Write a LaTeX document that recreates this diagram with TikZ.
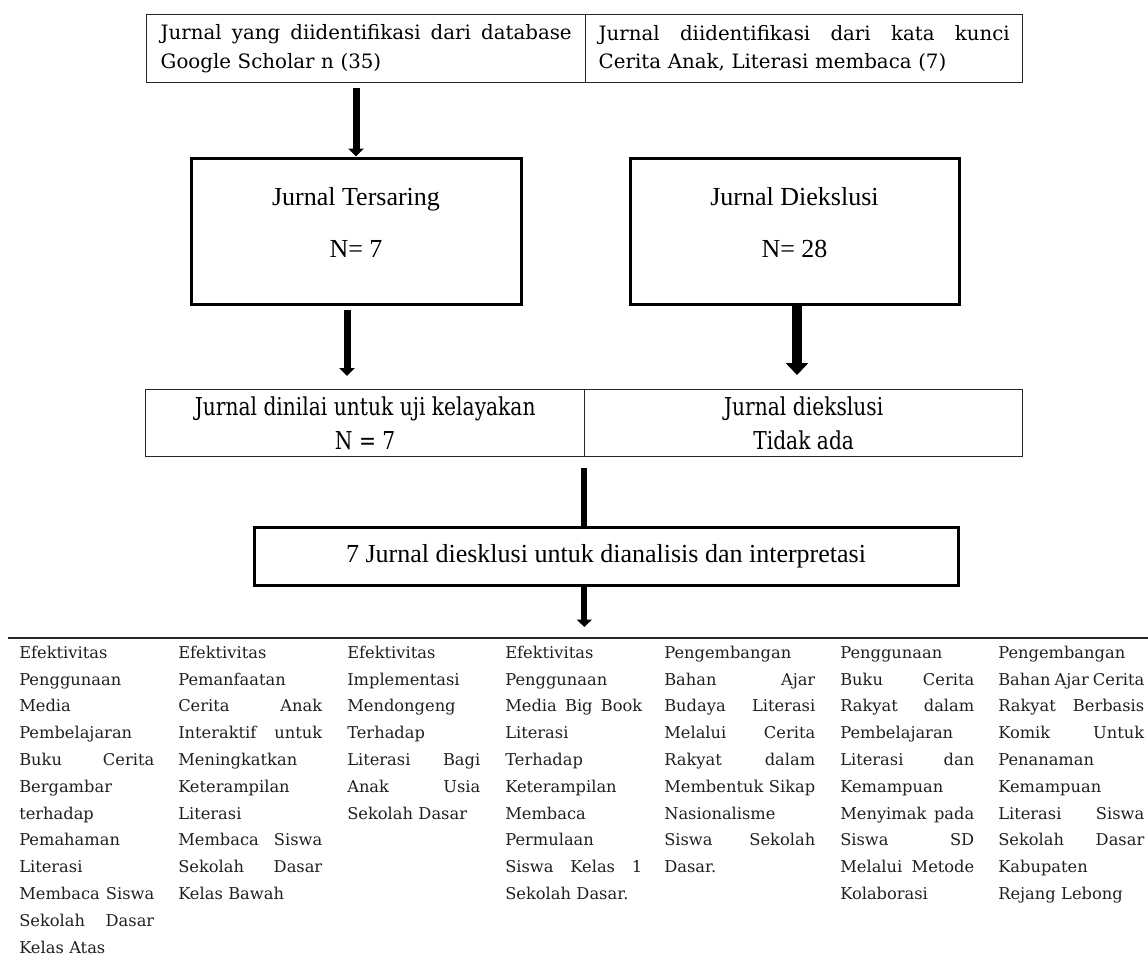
\documentclass[tikz,border=0pt]{standalone}
\usepackage{fontspec}
\setmainfont{DejaVu Serif}
\newfontfamily\timesf{Liberation Serif}
\newfontfamily\condf[FakeStretch=0.82]{DejaVu Serif}
\usetikzlibrary{arrows.meta,calc}
\newcommand{\jl}[2]{{\spaceskip=0pt\xspaceskip=0pt\makebox[#1][s]{#2}}}
\begin{document}
\begin{tikzpicture}[x=0.75pt,y=-0.75pt,
  tcell/.style={draw=black!85, line width=1.1pt, anchor=north west, inner ysep=0pt,
    text width=308.25pt, align=left, minimum height=51pt,
    font=\fontsize{14.85pt}{21.4pt}\selectfont},
  mcell/.style={draw=black!85, line width=1pt, anchor=north west, inner sep=0pt,
    align=center, minimum height=50.25pt,
    font=\condf\fontsize{18.5pt}{25.5pt}\selectfont},
  bigbox/.style={draw, line width=2.25pt, inner sep=0pt, minimum height=109.5pt},
  boxtext/.style={font=\timesf\fontsize{19.5pt}{23pt}\selectfont, anchor=base, inner sep=0pt},
  colt/.style={anchor=north west, inner sep=0pt, align=left, text=black!88,
    font=\fontsize{12.2pt}{20.1pt}\selectfont},
  arrA/.style={line width=5.25pt, -{Triangle[width=11.25pt,length=6pt]}},
  arrC/.style={line width=7.5pt, -{Triangle[width=16.5pt,length=9pt]}},
  arrD/.style={line width=4.5pt},
  arrE/.style={line width=4.5pt, -{Triangle[width=11pt,length=5.5pt]}}
]
\useasboundingbox (0,0) rectangle (1148,976);

% top table
\node[tcell, inner xsep=10.5pt, minimum width=329.25pt] (t1) at (146,14)
  {\jl{308.25pt}{Jurnal yang diidentifikasi dari database}\\Google Scholar n (35)};
\node[tcell, inner xsep=9.75pt, minimum width=327.75pt] (t2) at (585,14)
  {\jl{308.25pt}{Jurnal diidentifikasi dari kata kunci}\\Cerita Anak, Literasi membaca (7)};

% boxes
\node[bigbox, minimum width=247.5pt] (ters) at (356,231) {};
\node[boxtext] (tersA) at (356,205) {Jurnal Tersaring};
\node[boxtext] (tersB) at (356,257) {N= 7};
\node[bigbox, minimum width=246.75pt] (diek) at (794.5,231) {};
\node[boxtext] (diekA) at (794.5,205) {Jurnal Diekslusi};
\node[boxtext] (diekB) at (794.5,257) {N= 28};

% middle table
\node[mcell, minimum width=329.25pt] (m1) at (145,389) {Jurnal dinilai untuk uji kelayakan\\N = 7};
\node[mcell, minimum width=328.5pt] (m2) at (584,389) {Jurnal diekslusi\\Tidak ada};

% final box
\node[bigbox, minimum width=528pt, minimum height=43.5pt,
  font=\timesf\fontsize{19.5pt}{23pt}\selectfont] (final) at (606,556)
  {7 Jurnal diesklusi untuk dianalisis dan interpretasi};

% arrows
\draw[arrA, shorten <=3.75pt] (ters.north |- t1.south) -- (ters.north);
\coordinate (a2) at ($(ters.south)+(-9,0)$);
\draw[arrA, shorten <=3pt, shorten >=9.75pt] (a2) -- (a2 |- m1.north);
\coordinate (a3) at ($(diek.south)+(2.5,0)$);
\draw[arrC, shorten >=10.5pt] (a3) -- (a3 |- m2.north);
\coordinate (a4) at ($(m1.south east)+(-1,11)$);
\draw[arrD] (a4) -- (a4 |- final.north);
\coordinate (bl) at (8,638);
\coordinate (br) at (1148,638);
\draw[line width=1.5pt, draw=black!85] (bl) -- (br);
\draw[arrE, shorten >=8.25pt] (a4 |- final.south) -- (a4 |- bl);

% bottom columns
\node[colt, text width=101.25pt] (c1) at (19,639.2) {\strut Efektivitas\\Penggunaan\\Media\\Pembelajaran\\\jl{101.25pt}{Buku Cerita}\\Bergambar\\terhadap\\Pemahaman\\Literasi\\\jl{101.25pt}{Membaca Siswa}\\\jl{101.25pt}{Sekolah Dasar}\\Kelas Atas};
\node[colt, text width=108pt] (c2) at (178,639.2) {\strut Efektivitas\\Pemanfaatan\\\jl{108pt}{Cerita Anak}\\\jl{108pt}{Interaktif untuk}\\Meningkatkan\\Keterampilan\\Literasi\\\jl{108pt}{Membaca Siswa}\\\jl{108pt}{Sekolah Dasar}\\Kelas Bawah};
\node[colt, text width=99.75pt] (c3) at (347,639.2) {\strut Efektivitas\\Implementasi\\Mendongeng\\Terhadap\\\jl{99.75pt}{Literasi Bagi}\\\jl{99.75pt}{Anak Usia}\\Sekolah Dasar};
\node[colt, text width=102.75pt] (c4) at (505,639.2) {\strut Efektivitas\\Penggunaan\\\jl{102.75pt}{Media Big Book}\\Literasi\\Terhadap\\Keterampilan\\Membaca\\Permulaan\\\jl{102.75pt}{Siswa Kelas 1}\\Sekolah Dasar.};
\node[colt, text width=113.25pt] (c5) at (664,639.2) {\strut Pengembangan\\\jl{113.25pt}{Bahan Ajar}\\\jl{113.25pt}{Budaya Literasi}\\\jl{113.25pt}{Melalui Cerita}\\\jl{113.25pt}{Rakyat dalam}\\\jl{113.25pt}{Membentuk Sikap}\\Nasionalisme\\\jl{113.25pt}{Siswa Sekolah}\\Dasar.};
\node[colt, text width=100.5pt] (c6) at (840,639.2) {\strut Penggunaan\\\jl{100.5pt}{Buku Cerita}\\\jl{100.5pt}{Rakyat dalam}\\Pembelajaran\\\jl{100.5pt}{Literasi dan}\\Kemampuan\\\jl{100.5pt}{Menyimak pada}\\\jl{100.5pt}{Siswa SD}\\\jl{100.5pt}{Melalui Metode}\\Kolaborasi};
\node[colt, text width=109.5pt] (c7) at (998,639.2) {\strut Pengembangan\\\jl{109.5pt}{Bahan Ajar Cerita}\\\jl{109.5pt}{Rakyat Berbasis}\\\jl{109.5pt}{Komik Untuk}\\Penanaman\\Kemampuan\\\jl{109.5pt}{Literasi Siswa}\\\jl{109.5pt}{Sekolah Dasar}\\Kabupaten\\Rejang Lebong};
\end{tikzpicture}
\end{document}
